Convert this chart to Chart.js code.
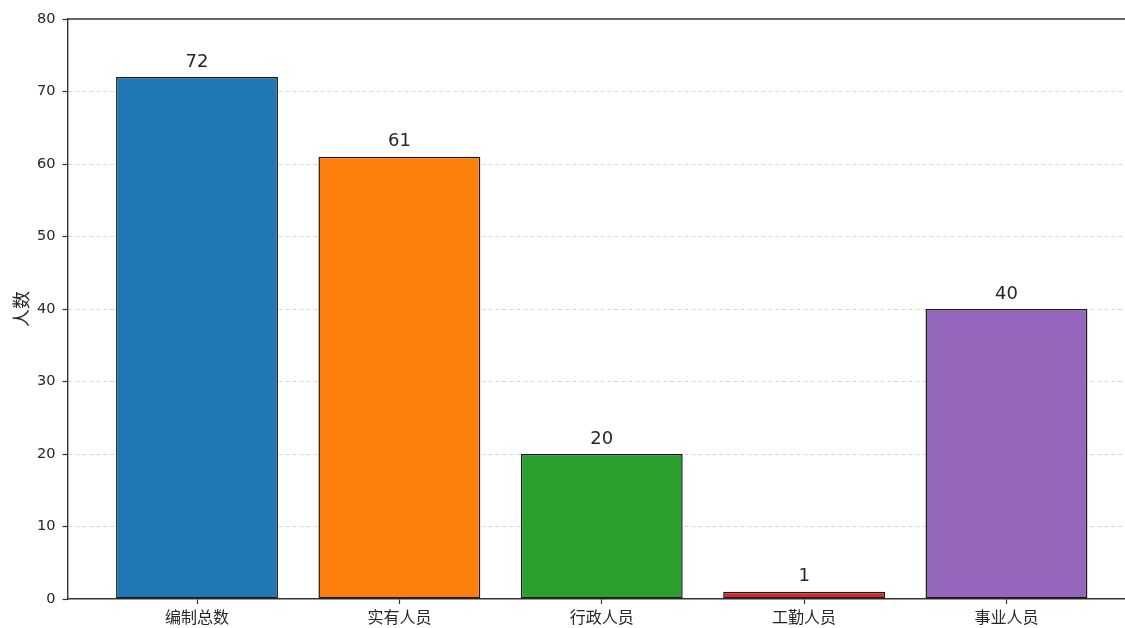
<!DOCTYPE html>
<html>
<head>
<meta charset="utf-8">
<script src="https://cdn.jsdelivr.net/npm/chart.js@4.4.1/dist/chart.umd.min.js"></script>
<style>
  html, body { margin: 0; padding: 0; background: #fff; overflow: hidden; }
  #wrap { width: 1136px; height: 628px; }
</style>
</head>
<body>
<div id="wrap"><canvas id="c" width="1136" height="628"></canvas></div>
<script>
const categories = ['编制总数', '实有人员', '行政人员', '工勤人员', '事业人员'];
const values = [72, 61, 20, 1, 40];
const barColors = ['#1f77b4', '#ff7f0e', '#2ca02c', '#d62728', '#9467bd'];
const yTicks = [0, 10, 20, 30, 40, 50, 60, 70, 80];
const yTitle = '人数';

const FONT = '"DejaVu Sans", "Noto Sans CJK SC", sans-serif';
const CJK = '"Noto Sans CJK SC", "DejaVu Sans", sans-serif';

const labelsPlugin = {
  id: 'barLabels',
  afterDatasetsDraw(chart) {
    const ctx = chart.ctx;
    const meta = chart.getDatasetMeta(0);
    ctx.save();
    ctx.font = '18px ' + FONT;
    ctx.fillStyle = '#262626';
    ctx.textAlign = 'center';
    ctx.textBaseline = 'bottom';
    meta.data.forEach((bar, i) => {
      ctx.fillText(String(values[i]), bar.x, bar.y - 6);
    });
    ctx.restore();
  },
  afterDraw(chart) {
    const {ctx, chartArea} = chart;
    ctx.save();
    ctx.strokeStyle = '#333';
    ctx.lineWidth = 1.4;
    ctx.beginPath();
    ctx.moveTo(chartArea.left, chartArea.top);
    ctx.lineTo(chartArea.right, chartArea.top);
    ctx.stroke();
    ctx.restore();
  }
};

new Chart(document.getElementById('c'), {
  type: 'bar',
  data: {
    datasets: [{
      data: values.map((v, i) => ({x: i, y: v})),
      backgroundColor: barColors,
      borderColor: '#1a1a1a',
      borderWidth: 1.5,
      borderSkipped: false,
      categoryPercentage: 0.8,
      barPercentage: 1.0
    }]
  },
  options: {
    responsive: false,
    animation: false,
    layout: { padding: { top: 19, left: 0, right: 0, bottom: 0 } },
    plugins: { legend: { display: false }, tooltip: { enabled: false } },
    scales: {
      x: {
        type: 'linear',
        offset: false,
        min: -0.64,
        max: 4.64,
        afterBuildTicks(scale) { scale.ticks = categories.map((_, i) => ({value: i})); },
        afterFit(scale) { scale.height = 29; },
        ticks: {
          autoSkip: false,
          maxRotation: 0,
          padding: 3,
          color: '#262626',
          font: { family: CJK, size: 16 },
          callback: (v) => categories[v]
        },
        grid: { offset: false, drawOnChartArea: false, drawTicks: true, tickLength: 5, tickColor: '#333', tickWidth: 1.2 },
        border: { display: true, color: '#333', width: 1.4 }
      },
      y: {
        min: 0,
        max: 80,
        afterBuildTicks(scale) { scale.ticks = yTicks.map(v => ({value: v})); },
        afterFit(scale) { scale.width = 67.5; },
        ticks: {
          padding: 7,
          color: '#262626',
          font: { family: FONT, size: 14.5 }
        },
        title: {
          display: true,
          text: yTitle,
          color: '#262626',
          font: { family: CJK, size: 18 },
          padding: { top: 10, bottom: 4 }
        },
        grid: {
          color: (c) => (c.tick && (c.tick.value === 0 || c.tick.value === 80)) ? 'rgba(0,0,0,0)' : '#d4d4d4',
          lineWidth: 0.9,
          drawTicks: true,
          tickLength: 5,
          tickColor: '#333',
          tickWidth: 1.2,
          tickBorderDash: []
        },
        border: { display: true, color: '#333', width: 1.4, dash: [4, 3] }
      }
    }
  },
  plugins: [labelsPlugin]
});
</script>
</body>
</html>
